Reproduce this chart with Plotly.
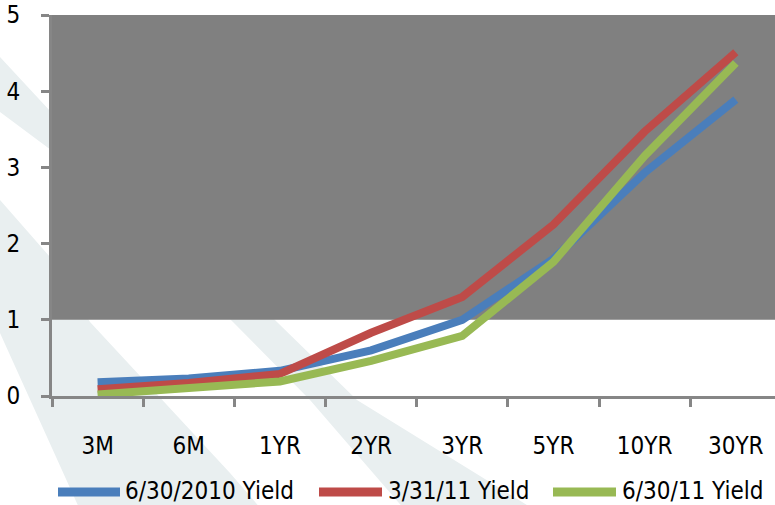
import plotly.graph_objects as go

# ---- data ----
categories = ["3M", "6M", "1YR", "2YR", "3YR", "5YR", "10YR", "30YR"]
series_names = ["6/30/2010 Yield", "3/31/11 Yield", "6/30/11 Yield"]
yield_2010_06 = [0.18, 0.23, 0.33, 0.60, 1.00, 1.80, 2.93, 3.89]
yield_2011_03 = [0.09, 0.17, 0.29, 0.83, 1.30, 2.25, 3.47, 4.51]
yield_2011_06 = [0.02, 0.11, 0.19, 0.46, 0.79, 1.76, 3.15, 4.37]
y_ticks = [0, 1, 2, 3, 4, 5]

colors = ["#4A7EBB", "#BE4B48", "#98B954"]
series_values = [yield_2010_06, yield_2011_03, yield_2011_06]

W, H = 775, 505
L, R, T, B = 52, 775, 15, 396
FONT = "DejaVu Sans Condensed, DejaVu Sans"
FS = 24


def px(x):
    return (x - L) / (R - L)


def py(y):
    return (B - y) / (B - T)


def path(points):
    s = "M " + " L ".join(f"{px(a):.5f},{py(b):.5f}" for a, b in points) + " Z"
    return s


fig = go.Figure()
for name, vals, col in zip(series_names, series_values, colors):
    fig.add_trace(go.Scatter(
        x=categories, y=vals, mode="lines", name=name,
        line=dict(color=col, width=8), showlegend=False,
    ))

band_color = "#E9EFF0"
bands = [
    [(-10, 46), (0, 57), (51, 112), (51, 150), (0, 112), (-10, 104)],
    [(-10, 188), (0, 200), (50, 257), (90, 322), (230, 473), (262, 510),
     (80, 510), (0, 333), (-10, 312)],
    [(190, 280), (233, 322), (310, 400), (405, 510), (535, 510), (357, 400),
     (277, 322), (235, 280)],
]
shapes = []
for b in bands:
    shapes.append(dict(type="path", xref="paper", yref="paper", path=path(b),
                       fillcolor=band_color, line=dict(width=0), layer="below"))

shapes.append(dict(type="rect", xref="paper", yref="y", x0=0, x1=1, y0=1, y1=5,
                   fillcolor="#808080", line=dict(width=0), layer="below"))

# custom legend
legend_items = [(58, 120, 123), (319, 382, 386), (553, 616, 620)]
annotations = []
for (x0, x1, tx), name, col in zip(legend_items, series_names, colors):
    shapes.append(dict(type="line", xref="paper", yref="paper",
                       x0=px(x0), x1=px(x1), y0=py(492), y1=py(492),
                       line=dict(color=col, width=9)))
    annotations.append(dict(xref="paper", yref="paper", x=px(tx), y=py(491),
                            xanchor="left", yanchor="middle", text=name,
                            showarrow=False, font=dict(family=FONT, size=FS, color="black")))

fig.update_layout(
    width=W, height=H,
    margin=dict(l=L, r=W - R, t=T, b=H - B, pad=0, autoexpand=False),
    paper_bgcolor="white", plot_bgcolor="white",
    shapes=shapes, annotations=annotations,
    font=dict(family=FONT, size=FS, color="black"),
    showlegend=False,
)
fig.update_xaxes(
    type="category", range=[-0.5, 7.43], tickson="boundaries",
    showline=True, linecolor="#868686", linewidth=3,
    ticks="outside", ticklen=8, tickwidth=3, tickcolor="#868686",
    showgrid=False, zeroline=False, ticklabelstandoff=26, automargin=False,
    tickfont=dict(family=FONT, size=FS, color="black"),
)
fig.update_yaxes(
    range=[0, 5], tickvals=y_ticks, ticktext=[str(v) for v in y_ticks],
    showline=True, linecolor="#868686", linewidth=3,
    ticks="outside", ticklen=8, tickwidth=3, tickcolor="#868686",
    showgrid=False, zeroline=False, ticklabelstandoff=16, automargin=False,
    tickfont=dict(family=FONT, size=FS, color="black"),
)

fig.write_html(
    "out.html",
    config={"displayModeBar": False},
    post_script="document.body.style.margin='0';document.body.style.overflow='hidden';",
)
